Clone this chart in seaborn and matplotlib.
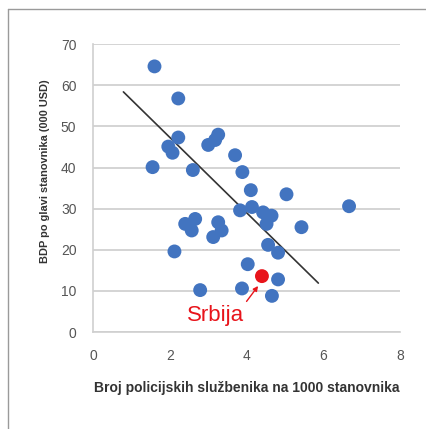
import matplotlib
matplotlib.use("Agg")
import matplotlib.pyplot as plt
from matplotlib.lines import Line2D
import seaborn as sns
import pandas as pd

# Countries: police officers per 1000 inhabitants vs GDP per capita (000 USD)
police = [1.60, 2.22, 2.22, 1.96, 2.07, 1.55, 2.60, 3.00, 3.18, 3.26, 3.70, 3.89,
          4.11, 5.04, 6.67, 3.83, 4.14, 4.43, 4.65, 4.52, 5.43, 2.40, 2.66, 2.57,
          3.26, 3.35, 3.13, 2.12, 4.56, 4.82, 4.03, 4.82, 2.79, 3.88, 4.66]
gdp = [64.6, 56.8, 47.3, 45.1, 43.6, 40.1, 39.4, 45.5, 46.7, 48.0, 43.0, 38.9,
       34.5, 33.5, 30.6, 29.6, 30.4, 29.1, 28.3, 26.3, 25.5, 26.3, 27.5, 24.7,
       26.7, 24.7, 23.1, 19.6, 21.2, 19.3, 16.5, 12.8, 10.2, 10.6, 8.8]

# Serbia
srb_police = [4.40]
srb_gdp = [13.6]

# trend line end points
trend_x = [0.79, 5.87]
trend_y = [58.4, 11.9]

x_ticks = [0, 2, 4, 6, 8]
y_ticks = [0, 10, 20, 30, 40, 50, 60, 70]

df = pd.DataFrame({"police": police, "gdp": gdp})
srb = pd.DataFrame({"police": srb_police, "gdp": srb_gdp})
trend = pd.DataFrame({"x": trend_x, "y": trend_y})

sns.set_style("white")
plt.rcParams["font.family"] = ["Liberation Sans", "DejaVu Sans"]

fig = plt.figure(figsize=(4.27, 4.29), dpi=100)
ax = fig.add_axes([0.218, 0.226, 0.719, 0.671])

blue = "#4274c0"
red = "#e8141b"

sns.scatterplot(data=df, x="police", y="gdp", color=blue, s=100,
                edgecolor="none", ax=ax, zorder=3)
sns.lineplot(data=trend, x="x", y="y", color="#333333", lw=1.2, ax=ax, zorder=2)
sns.scatterplot(data=srb, x="police", y="gdp", color=red, s=100,
                edgecolor="none", ax=ax, zorder=4)

ax.annotate("Srbija", xy=(4.30, 11.2), xytext=(3.2, 4.1),
            color=red, fontsize=16, fontweight="medium", ha="center", va="center",
            arrowprops=dict(arrowstyle="-|>", color=red, lw=1,
                            mutation_scale=7, shrinkA=0, shrinkB=0,
                            relpos=(0.98, 0.95)))

ax.set_xlim(0, 8)
ax.set_ylim(0, 70)
ax.set_xticks(x_ticks)
ax.set_yticks(y_ticks)
ax.tick_params(length=0, pad=12, labelsize=10, labelcolor="#555555")

ax.grid(axis="y", color="#d4d4d4", lw=1.4)
ax.set_axisbelow(True)
for side in ["top", "right"]:
    ax.spines[side].set_visible(False)
for side in ["left", "bottom"]:
    ax.spines[side].set_color("#cfcfcf")
    ax.spines[side].set_linewidth(1.2)

ax.set_xlabel("Broj policijskih službenika na 1000 stanovnika",
              fontsize=10, fontweight="bold", color="#333333", labelpad=13)
ax.set_ylabel("BDP po glavi stanovnika (000 USD)",
              fontsize=7.9, fontweight="bold", color="#333333")
ax.yaxis.set_label_coords(-0.14, 0.56)

# outer frame (top and left only)
fig.add_artist(Line2D([0.019, 1.0], [0.979, 0.979], color="#9a9a9a", lw=1))
fig.add_artist(Line2D([0.019, 0.019], [0.0, 0.979], color="#9a9a9a", lw=1))

fig.savefig("out.png", dpi=100)
